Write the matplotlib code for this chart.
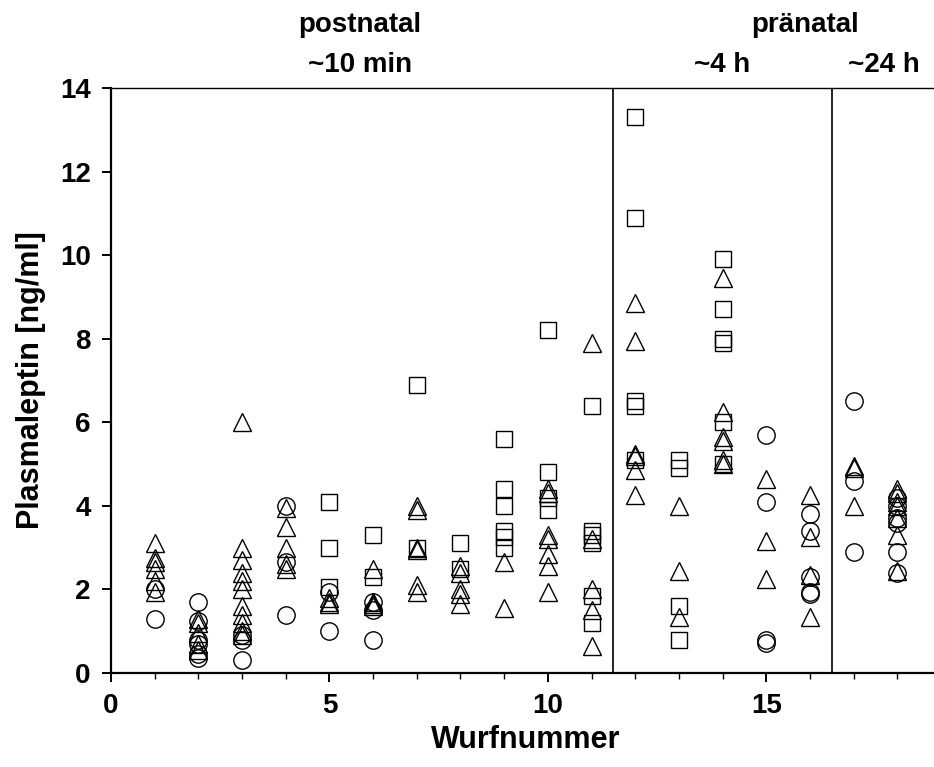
import numpy as np
import matplotlib
matplotlib.use("Agg")
import matplotlib.pyplot as plt
from matplotlib.ticker import MultipleLocator
from matplotlib.transforms import blended_transform_factory

plt.rcParams['font.family'] = ['Liberation Sans', 'DejaVu Sans']
plt.rcParams['font.weight'] = 'bold'

# Plasmaleptin [ng/ml] per litter (Wurfnummer), one dict per marker group
circles = {
    1: [2.0, 1.3],
    2: [1.7, 1.25, 0.78, 0.7, 0.45, 0.35],
    3: [0.9, 0.8, 0.32],
    4: [4.0, 2.65, 1.4],
    5: [1.95, 1.0],
    6: [1.7, 1.5, 0.8],
    15: [5.7, 4.1, 0.8, 0.72],
    16: [3.8, 3.4, 2.3, 1.95, 1.9],
    17: [6.5, 4.6, 2.9],
    18: [4.2, 4.0, 3.7, 3.6, 2.9, 2.4],
}
triangles = {
    1: [3.1, 2.75, 2.65, 2.5, 2.2, 1.95],
    2: [1.3, 1.2, 0.95, 0.7, 0.55],
    3: [6.0, 3.0, 2.7, 2.4, 2.2, 2.0, 1.6, 1.4, 1.2, 1.0, 0.9],
    4: [3.95, 3.5, 3.0, 2.6, 2.5],
    5: [1.8, 1.7, 1.65],
    6: [2.5, 1.7, 1.65, 1.6],
    7: [4.0, 3.9, 3.0, 2.95, 2.1, 1.95],
    8: [2.55, 2.4, 2.0, 1.9, 1.65],
    9: [2.65, 1.55],
    10: [4.4, 4.3, 3.3, 3.2, 2.85, 2.55, 1.95],
    11: [7.9, 3.2, 2.0, 1.5, 0.65],
    12: [8.85, 7.95, 5.25, 5.2, 4.85, 4.25],
    13: [4.0, 2.45, 1.35],
    14: [9.45, 6.25, 5.65, 5.55, 5.1, 5.0],
    15: [4.65, 3.15, 2.25],
    16: [4.25, 3.25, 2.35, 1.35],
    17: [4.95, 4.9, 4.0],
    18: [4.4, 4.3, 4.1, 4.0, 3.7, 3.3, 2.45],
}
squares = {
    5: [4.1, 3.0, 2.05],
    6: [3.3, 2.3],
    7: [6.9, 3.0],
    8: [3.1, 2.5],
    9: [5.6, 4.4, 4.0, 3.4, 3.25, 3.0],
    10: [8.2, 4.8, 4.2, 3.9],
    11: [6.4, 3.4, 3.3, 3.1, 1.85, 1.2],
    12: [13.3, 10.9, 6.5, 6.4, 5.1],
    13: [5.1, 4.9, 1.6, 0.8],
    14: [9.9, 8.7, 8.0, 7.9, 6.0, 5.0],
}

# group boundaries and header labels
dividers = [11.5, 16.5]
headers = [("postnatal", 5.7, 1.108), ("~10 min", 5.7, 1.040),
           ("pränatal", 15.9, 1.108), ("~4 h", 14.0, 1.040), ("~24 h", 17.7, 1.040)]


def flatten(groups):
    xs, ys = [], []
    for wurf, vals in groups.items():
        xs += [wurf] * len(vals)
        ys += vals
    return xs, ys


fig = plt.figure(figsize=(9.34, 7.67), dpi=100)
ax = fig.add_axes([111 / 934, 94 / 767, 830 / 934, 585 / 767])

for groups, marker, ms in [(circles, 'o', 12.5), (squares, 's', 11), (triangles, '^', 12.5)]:
    xs, ys = flatten(groups)
    ax.plot(xs, ys, linestyle='none', marker=marker, markersize=ms,
            markerfacecolor='none', markeredgecolor='black', markeredgewidth=1.0,
            clip_on=False)

for d in dividers:
    ax.axvline(d, color='black', lw=1.2)

ax.set_xlim(0, 19)
ax.set_ylim(0, 14)
ax.set_xticks([0, 5, 10, 15])
ax.xaxis.set_minor_locator(MultipleLocator(1))
ax.set_yticks(np.arange(0, 15, 2))

ax.spines['right'].set_visible(False)
ax.spines['left'].set_linewidth(1.6)
ax.spines['bottom'].set_linewidth(1.6)
ax.spines['top'].set_linewidth(1.0)
ax.tick_params(which='major', direction='out', length=6.5, width=1.4, labelsize=20, pad=8)
ax.tick_params(which='minor', direction='out', length=4, width=1.0)
ax.tick_params(axis='x', which='both', top=False)
for lab in ax.get_xticklabels() + ax.get_yticklabels():
    lab.set_fontweight('bold')

ax.set_xlabel("Wurfnummer", fontsize=22, fontweight='bold', labelpad=4)
ax.set_ylabel("Plasmaleptin [ng/ml]", fontsize=22, fontweight='bold', labelpad=10)

trans = blended_transform_factory(ax.transData, ax.transAxes)
for text, x, y in headers:
    ax.text(x, y, text, transform=trans, ha='center', va='center',
            fontsize=20, fontweight='bold')

fig.savefig("out.png", dpi=100)
